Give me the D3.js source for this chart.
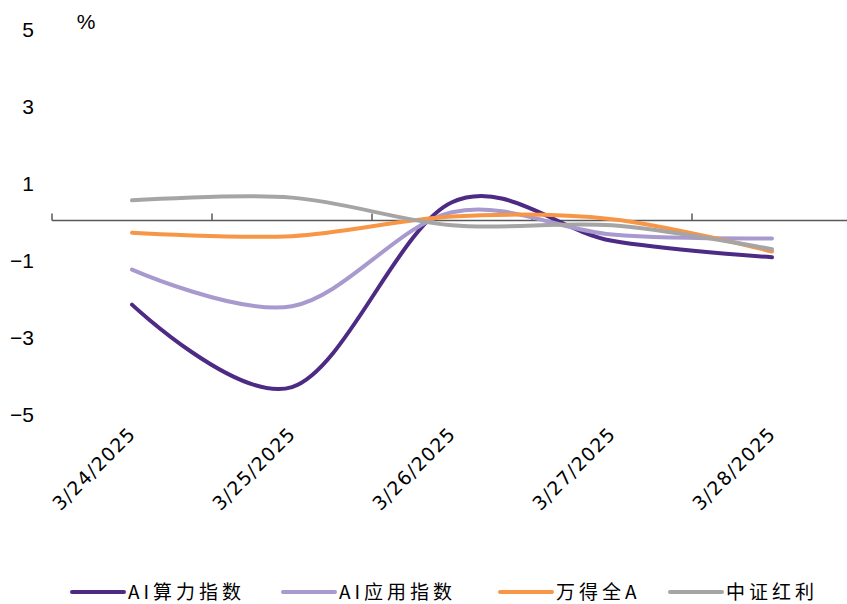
<!DOCTYPE html>
<html>
<head>
<meta charset="utf-8">
<script src="https://cdn.jsdelivr.net/npm/d3@7"></script>
<style>
  body { margin: 0; background: #fff; }
  svg { display: block; }
</style>
</head>
<body>
<svg class="chart_svg"></svg>
<script>
// chart data
var dates = ["3/24/2025", "3/25/2025", "3/26/2025", "3/27/2025", "3/28/2025"]
var aiCompute = [-2.16, -4.3, 0.5, -0.5, -0.93]
var aiApp = [-1.25, -2.2, 0.24, -0.34, -0.44]
var windA = [-0.29, -0.38, 0.13, 0.06, -0.78]
var dividend = [0.55, 0.62, -0.1, -0.1, -0.72]
var yTicks = [5, 3, 1, -1, -3, -5]
var seriesNames = ["AI算力指数", "AI应用指数", "万得全A", "中证红利"]
var colors = ["#4D2A84", "#A899CE", "#F79646", "#A5A5A5"]

var W = 847, H = 604
var svg = d3.select(".chart_svg").attr("width", W).attr("height", H)

var x = d3.scaleBand().domain(dates).range([52, 852])
var y = d3.scaleLinear().domain([-5, 5]).range([414, 29])

// y tick labels (no axis line)
svg.selectAll(".y_lab").data(yTicks).join("text")
  .attr("class", "y_lab")
  .attr("x", 34)
  .attr("y", d => y(d))
  .attr("dy", "0.36em")
  .attr("text-anchor", "end")
  .style("font-family", "Liberation Sans, Arial, sans-serif")
  .style("font-size", "21px")
  .style("fill", "#000")
  .text(d => d < 0 ? "\u2212" + Math.abs(d) : d)

svg.append("text")
  .attr("x", 86).attr("y", 29)
  .attr("text-anchor", "middle")
  .style("font-family", "Liberation Sans, Arial, sans-serif")
  .style("font-size", "21px")
  .text("%")

// x axis at zero, ticks pointing up
var y0 = Math.round(y(0)) - 1.5
svg.append("line")
  .attr("x1", x.range()[0]).attr("x2", x.range()[1])
  .attr("y1", y0).attr("y2", y0)
  .attr("stroke", "#595959").attr("stroke-width", 1.5)

var tickPos = dates.map(d => x(d)).concat([x.range()[1]])
svg.selectAll(".x_tick").data(tickPos).join("line")
  .attr("class", "x_tick")
  .attr("x1", d => d).attr("x2", d => d)
  .attr("y1", y0).attr("y2", y0 - 7)
  .attr("stroke", "#595959").attr("stroke-width", 1.5)

// rotated date labels
svg.selectAll(".x_lab").data(dates).join("text")
  .attr("class", "x_lab")
  .attr("transform", d => `translate(${x(d) + x.bandwidth() / 2 + 5}, 435) rotate(-45)`)
  .attr("text-anchor", "end")
  .style("font-family", "DejaVu Sans, sans-serif")
  .style("font-size", "19px")
  .style("letter-spacing", "1.2px")
  .text(d => d)

// lines
var all = [aiCompute, aiApp, windA, dividend]
var line = d3.line()
  .x((d, i) => x(dates[i]) + x.bandwidth() / 2)
  .y(d => y(d))
  .curve(d3.curveCatmullRom.alpha(0))

svg.selectAll(".series").data(all).join("path")
  .attr("class", "series")
  .attr("d", d => line(d))
  .attr("fill", "none")
  .attr("stroke", (d, i) => colors[i])
  .attr("stroke-width", 4)
  .attr("stroke-linecap", "round")

// legend
var legX = [72, 283, 500, 670]
var leg = svg.selectAll(".leg").data(seriesNames).join("g")
  .attr("class", "leg")
  .attr("transform", (d, i) => `translate(${legX[i]}, 592)`)
leg.append("line")
  .attr("x1", 0).attr("x2", 52)
  .attr("stroke", (d, i) => colors[i])
  .attr("stroke-width", 4)
  .attr("stroke-linecap", "round")
leg.append("text")
  .attr("x", 56)
  .attr("dy", "0.36em")
  .style("font-family", "Noto Sans CJK SC, sans-serif")
  .style("font-size", "19px")
  .style("letter-spacing", "4px")
  .text(d => d)
</script>
</body>
</html>
